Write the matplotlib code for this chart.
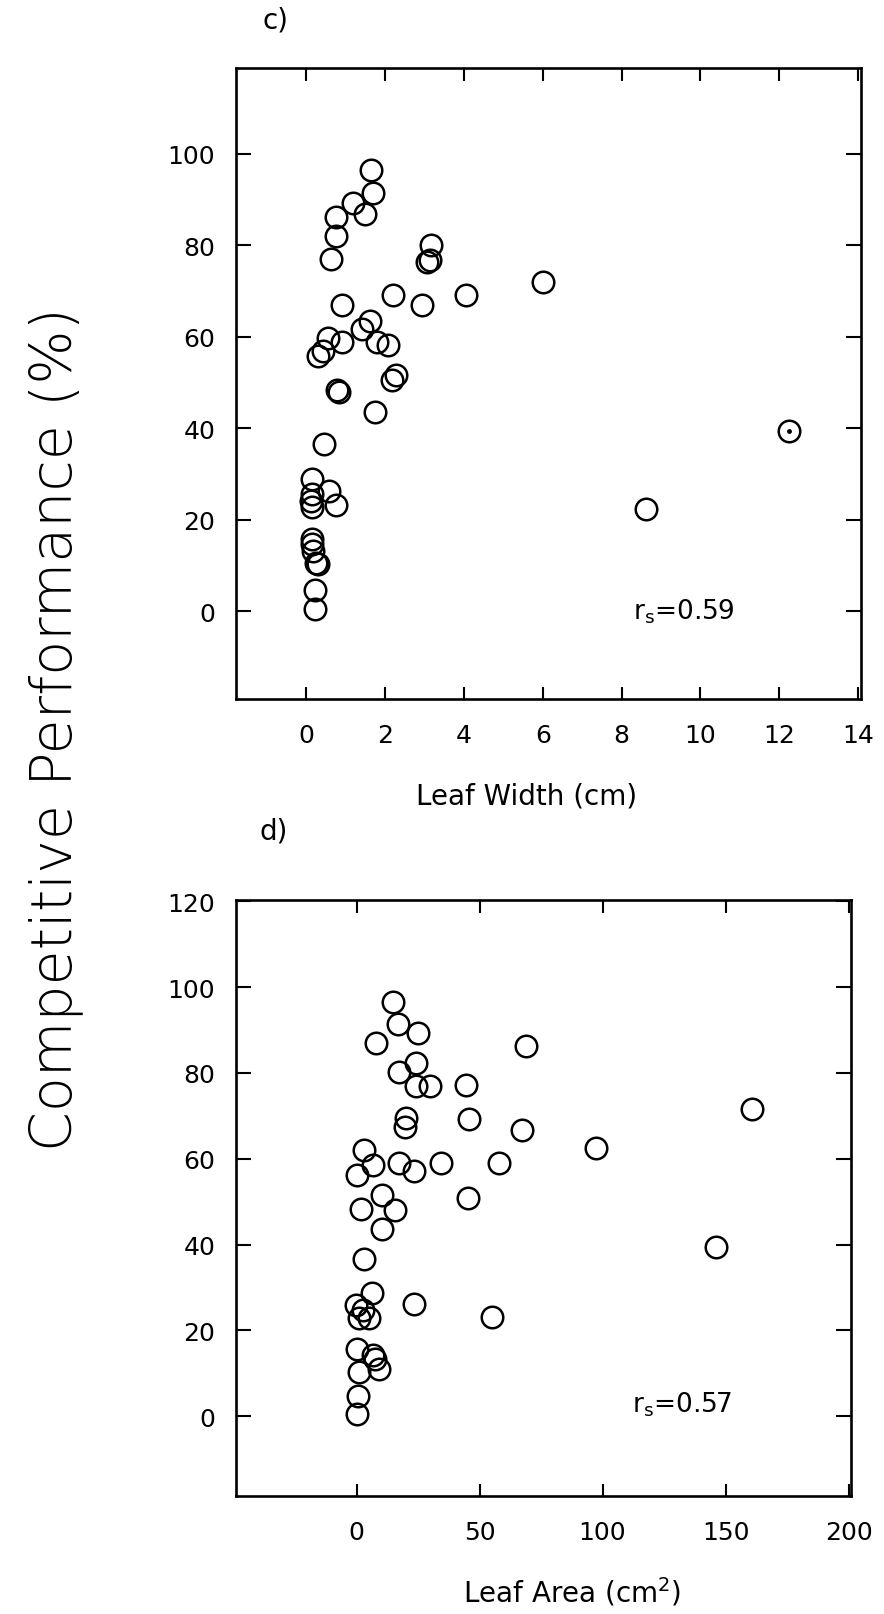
import matplotlib
matplotlib.use("Agg")
import matplotlib.pyplot as plt

# ---- data: panel c (Leaf Width, cm) ----
width_cm = [1.65, 1.68, 1.18, 1.48, 0.76, 0.76, 0.63, 3.17, 3.13, 3.05,
            4.05, 2.20, 2.94, 0.89, 1.61, 1.40, 0.55, 0.89, 1.78, 2.07,
            0.42, 0.30, 2.28, 2.18, 0.78, 0.82, 1.73, 0.45, 0.13, 0.57,
            0.15, 0.12, 0.13, 0.74, 0.13, 0.13, 0.17, 0.24, 0.28, 0.21,
            0.21, 6.01, 12.25, 8.61]
perf_c = [96.3, 91.4, 89.3, 86.7, 86.2, 81.9, 77.0, 80.1, 76.7, 76.4,
          69.0, 69.2, 67.0, 66.8, 63.3, 61.7, 59.7, 58.8, 58.8, 58.1,
          56.9, 55.7, 51.5, 50.6, 48.4, 48.0, 43.5, 36.6, 28.9, 26.2,
          25.7, 24.0, 22.7, 23.1, 15.8, 14.7, 13.2, 10.6, 10.2, 4.7,
          0.5, 72.0, 39.3, 22.4]
dot_x = [12.25]
dot_y = [39.3]

# ---- data: panel d (Leaf Area, cm2) ----
area_cm2 = [14.8, 17.0, 24.8, 7.8, 68.8, 24.0, 17.4, 24.0, 30.0, 44.5,
            20.3, 19.6, 45.7, 67.1, 160.7, 97.2, 3.0, 6.6, 0.2, 17.3,
            23.4, 34.3, 58.1, 10.3, 45.2, 1.8, 15.5, 10.5, 2.9, 146.2,
            6.1, -0.1, 2.7, 1.2, 5.1, 23.3, 54.9, 0.1, 6.8, 7.4,
            1.2, 9.2, 0.6, 0.1]
perf_d = [96.5, 91.5, 89.3, 86.9, 86.2, 82.2, 80.3, 77.0, 77.0, 77.2,
          69.6, 67.3, 69.2, 66.7, 71.5, 62.5, 62.1, 58.5, 56.3, 59.1,
          57.1, 58.9, 59.1, 51.6, 50.8, 48.3, 48.0, 43.6, 36.7, 39.4,
          28.7, 25.9, 24.8, 22.8, 22.8, 26.1, 23.2, 15.6, 14.3, 13.3,
          10.4, 11.0, 4.8, 0.5]

xticks_c = [0, 2, 4, 6, 8, 10, 12, 14]
yticks_c = [0, 20, 40, 60, 80, 100]
xticks_d = [0, 50, 100, 150, 200]
yticks_d = [0, 20, 40, 60, 80, 100, 120]

W, H = 884, 1615
fig = plt.figure(figsize=(W / 100, H / 100), dpi=100)
plt.rcParams['font.family'] = ['DejaVu Sans']


def box(l, t, r, b):
    return [l / W, 1 - b / H, (r - l) / W, (b - t) / H]


ax1 = fig.add_axes(box(236, 69, 861, 700))
ax2 = fig.add_axes(box(236, 901, 851, 1497))

ms = 15.5
mew = 1.8
for ax, xs, ys in [(ax1, width_cm, perf_c), (ax2, area_cm2, perf_d)]:
    ax.plot(xs, ys, linestyle='none', marker='o', markersize=ms,
            markerfacecolor='none', markeredgecolor='black', markeredgewidth=mew)
ax1.plot(dot_x, dot_y, linestyle='none', marker='o', markersize=2.5, color='black')

ax1.set_xlim(-1.79, 14.08)
ax1.set_ylim(-19.2, 118.7)
ax2.set_xlim(-49.0, 201.0)
ax2.set_ylim(-18.6, 120.3)

ax1.set_xticks(xticks_c)
ax1.set_yticks(yticks_c)
ax2.set_xticks(xticks_d)
ax2.set_yticks(yticks_d)

for ax in (ax1, ax2):
    for s in ax.spines.values():
        s.set_linewidth(1.9)
    ax.tick_params(axis='both', which='major', direction='in', top=True, right=True,
                   labelsize=18, width=1.5)
    ax.tick_params(axis='y', length=11, pad=15)
    ax.tick_params(axis='x', length=9, pad=17)

ax1.text(8.3, 0, r'$\mathregular{r_s}$=0.59', fontsize=19, va='center', ha='left')
ax2.text(112, 3, r'$\mathregular{r_s}$=0.57', fontsize=19, va='center', ha='left')

fig.text(275 / W, 1 - 21 / H, 'c)', fontsize=20, ha='center', va='center')
fig.text(274 / W, 1 - 832 / H, 'd)', fontsize=20, ha='center', va='center')

fig.text(527 / W, 1 - 797 / H, 'Leaf Width (cm)', fontsize=20, ha='center', va='center')
fig.text(572 / W, 1 - 1592 / H, r'Leaf Area (cm$\mathregular{^2}$)', fontsize=20,
         ha='center', va='center')

fig.text(56 / W, 1 - 729 / H, 'Competitive Performance (%)', rotation=90,
         fontsize=41, ha='center', va='center', fontweight='light')

fig.savefig('out.png', dpi=100)
